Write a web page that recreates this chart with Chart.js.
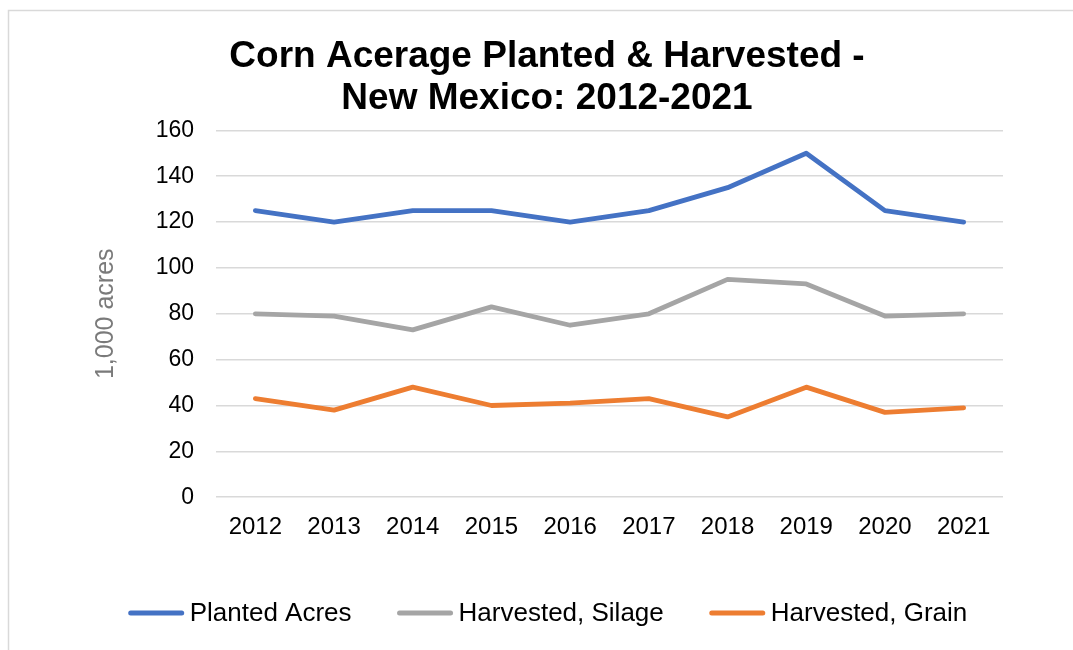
<!DOCTYPE html>
<html>
<head>
<meta charset="utf-8">
<script src="https://cdn.jsdelivr.net/npm/chart.js@4.4.1/dist/chart.umd.min.js"></script>
<style>
  html, body { margin: 0; padding: 0; background: #ffffff; }
  #wrap { position: relative; width: 1073px; height: 650px; }
  canvas { display: block; }
</style>
</head>
<body>
<div id="wrap"><canvas id="c" width="1073" height="650"></canvas></div>
<script>
const years = ['2012','2013','2014','2015','2016','2017','2018','2019','2020','2021'];
const plantedAcres = [125, 120, 125, 125, 120, 125, 135, 150, 125, 120];
const harvestedSilage = [80, 79, 73, 83, 75, 80, 95, 93, 79, 80];
const harvestedGrain = [43, 38, 48, 40, 41, 43, 35, 48, 37, 39];
const titleLines = ['Corn Acerage Planted & Harvested -', 'New Mexico: 2012-2021'];
const yAxisTitle = '1,000 acres';

const FONT = "'Liberation Sans', Arial, sans-serif";

const framePlugin = {
  id: 'frame',
  beforeDraw(chart) {
    const ctx = chart.ctx;
    ctx.save();
    ctx.fillStyle = '#ffffff';
    ctx.fillRect(0, 0, chart.width, chart.height);
    ctx.strokeStyle = '#d9d9d9';
    ctx.lineWidth = 1.5;
    ctx.strokeRect(8.5, 10.5, 2000, 2000);
    ctx.restore();
  }
};

// Legend drawn in one centred row, Excel style
const rowLegendPlugin = {
  id: 'rowLegend',
  afterDraw(chart) {
    const ctx = chart.ctx;
    const boxW = 55, boxGap = 6, itemGap = 46, lineW = 5;
    const centerX = 548, y = 613;
    ctx.save();
    ctx.font = '26px ' + FONT;
    const items = chart.data.datasets.map(ds => ({ text: ds.label, color: ds.borderColor, w: ctx.measureText(ds.label).width }));
    let total = 0;
    items.forEach((it, i) => { total += boxW + boxGap + it.w + (i < items.length - 1 ? itemGap : 0); });
    let x = centerX - total / 2;
    ctx.textBaseline = 'middle';
    ctx.textAlign = 'left';
    items.forEach(it => {
      ctx.strokeStyle = it.color;
      ctx.lineWidth = lineW;
      ctx.lineCap = 'round';
      ctx.beginPath();
      ctx.moveTo(x + 2, y);
      ctx.lineTo(x + boxW - 2, y);
      ctx.stroke();
      x += boxW + boxGap;
      ctx.fillStyle = '#000000';
      ctx.fillText(it.text, x, y + 1);
      x += it.w + itemGap;
    });
    ctx.restore();
  }
};

new Chart(document.getElementById('c'), {
  type: 'line',
  data: {
    labels: years,
    datasets: [
      { label: 'Planted Acres', data: plantedAcres, borderColor: '#4472C4', backgroundColor: '#4472C4' },
      { label: 'Harvested, Silage', data: harvestedSilage, borderColor: '#A5A5A5', backgroundColor: '#A5A5A5' },
      { label: 'Harvested, Grain', data: harvestedGrain, borderColor: '#ED7D31', backgroundColor: '#ED7D31' }
    ]
  },
  options: {
    responsive: false,
    animation: false,
    devicePixelRatio: 1,
    layout: { padding: { left: 91, right: 70, top: 0, bottom: 92 } },
    elements: {
      line: { borderWidth: 4.8, tension: 0, borderCapStyle: 'round', borderJoinStyle: 'round' },
      point: { radius: 0, hoverRadius: 0 }
    },
    plugins: {
      title: {
        display: true,
        text: titleLines,
        color: '#000000',
        font: { family: FONT, size: 37, weight: 'bold', lineHeight: 1.14 },
        padding: { top: 36, bottom: 10 }
      },
      legend: { display: false },
      tooltip: { enabled: false }
    },
    scales: {
      x: {
        offset: true,
        grid: { display: false, drawTicks: false },
        border: { display: false },
        ticks: { color: '#000000', font: { family: FONT, size: 24 }, padding: 16, maxRotation: 0 }
      },
      y: {
        min: 0,
        max: 160,
        ticks: { stepSize: 20, color: '#000000', font: { family: FONT, size: 23 }, padding: 22 },
        grid: { color: '#d9d9d9', lineWidth: 1.5, drawTicks: false },
        border: { display: false },
        title: {
          display: true,
          text: yAxisTitle,
          color: '#7a7a7a',
          font: { family: FONT, size: 25 },
          padding: { top: 0, bottom: 0 }
        },
        afterFit(scale) { scale.width = 125; }
      }
    }
  },
  plugins: [framePlugin, rowLegendPlugin]
});
</script>
</body>
</html>
